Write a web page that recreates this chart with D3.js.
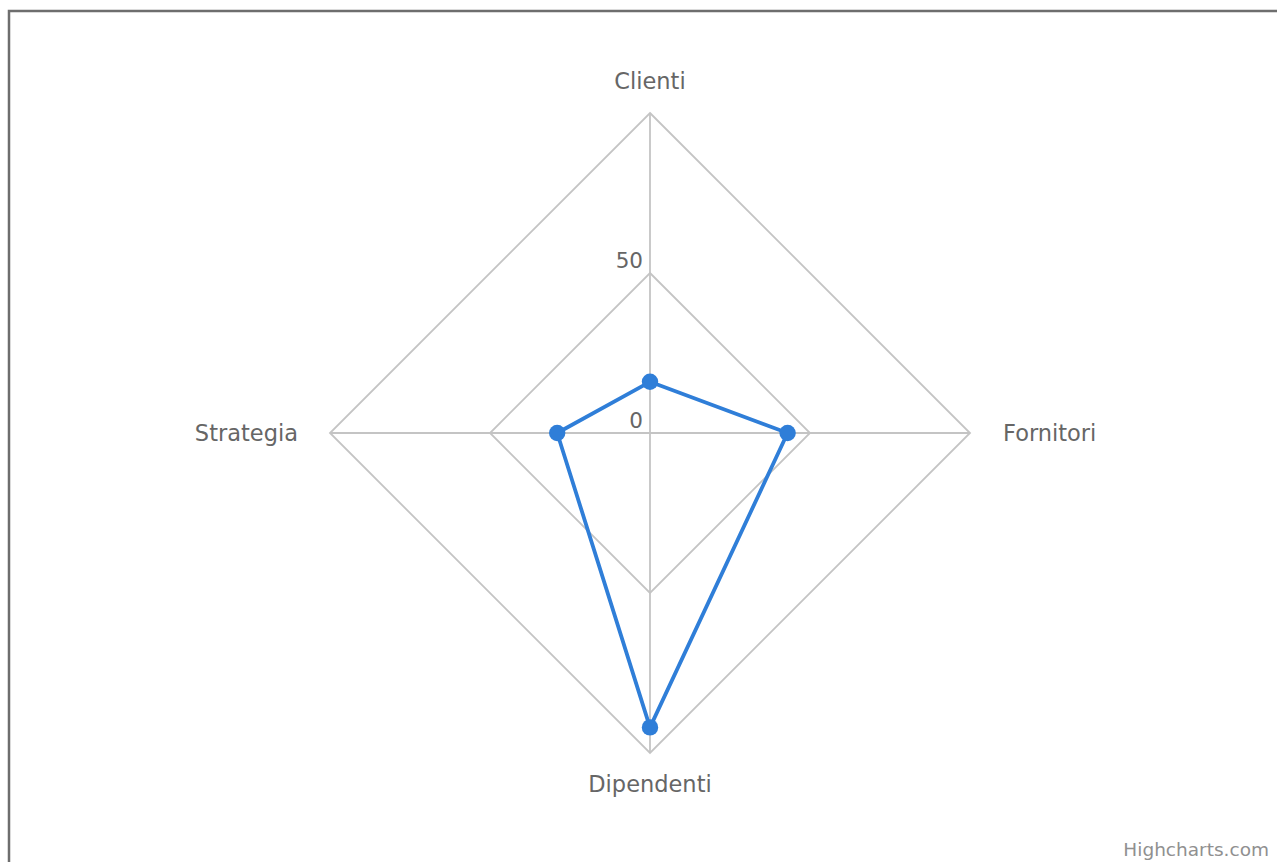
<!DOCTYPE html>
<html>
<head>
<meta charset="utf-8">
<style>
  body { margin: 0; background: #fff; }
  svg { display: block; font-family: "DejaVu Sans", sans-serif; }
</style>
</head>
<body>
<div class="start"></div>
<script src="https://cdn.jsdelivr.net/npm/d3@7/dist/d3.min.js" charset="utf-8"></script>
<script>
var categories = ['Clienti', 'Fornitori', 'Dipendenti', 'Strategia'];
var values = [16, 43, 92, 29];
var ticks = [0, 50, 100];
var tickLabels = ['0', '50'];

var width = 1277, height = 862;
var cx = 650, cy = 433;

var svg = d3.select('.start')
  .append('svg')
  .attr('width', width)
  .attr('height', height);

// chart frame
svg.append('rect')
  .attr('x', 9).attr('y', 11)
  .attr('width', 1400).attr('height', 1000)
  .attr('fill', 'none')
  .attr('stroke', '#6e6e6e')
  .attr('stroke-width', 2.5);

var r = d3.scaleLinear().domain([0, 100]).range([0, 320]);
var angle = d3.scalePoint().domain(categories).range([0, 2 * Math.PI * 3 / 4]);

function pt(cat, v) {
  var a = angle(cat);
  return [cx + r(v) * Math.sin(a), cy - r(v) * Math.cos(a)];
}

var g = svg.append('g');

// polygon gridlines
g.selectAll('.grid')
  .data(ticks.filter(function(t) { return t > 0; }))
  .enter().append('polygon')
  .attr('points', function(t) {
    return categories.map(function(c) { return pt(c, t).join(','); }).join(' ');
  })
  .attr('fill', 'none')
  .attr('stroke', '#c4c4c4')
  .attr('stroke-width', 1.8);

// spokes
g.selectAll('.spoke')
  .data(categories)
  .enter().append('line')
  .attr('x1', cx).attr('y1', cy)
  .attr('x2', function(c) { return pt(c, 100)[0]; })
  .attr('y2', function(c) { return pt(c, 100)[1]; })
  .attr('stroke', '#c4c4c4')
  .attr('stroke-width', 1.8);

// radial tick labels
g.selectAll('.tick')
  .data(tickLabels)
  .enter().append('text')
  .attr('x', cx - 7)
  .attr('y', function(d) { return cy - r(+d) - 5; })
  .attr('text-anchor', 'end')
  .attr('fill', '#666')
  .attr('font-size', 21.5)
  .text(function(d) { return d; });

// category labels
var labelPos = {
  'Clienti':    { dx: 0,   dy: -24, anchor: 'middle' },
  'Fornitori':  { dx: 33,  dy: 8,   anchor: 'start' },
  'Dipendenti': { dx: 0,   dy: 39,  anchor: 'middle' },
  'Strategia':  { dx: -32, dy: 8,   anchor: 'end' }
};
g.selectAll('.cat')
  .data(categories)
  .enter().append('text')
  .attr('x', function(c) { return pt(c, 100)[0] + labelPos[c].dx; })
  .attr('y', function(c) { return pt(c, 100)[1] + labelPos[c].dy; })
  .attr('text-anchor', function(c) { return labelPos[c].anchor; })
  .attr('fill', '#666')
  .attr('font-size', 22.5)
  .text(function(c) { return c; });

// series
var line = d3.line().curve(d3.curveLinearClosed);
var pts = categories.map(function(c, i) { return pt(c, values[i]); });

g.append('path')
  .attr('d', line(pts))
  .attr('fill', 'none')
  .attr('stroke', '#2f7ed8')
  .attr('stroke-width', 3.8)
  .attr('stroke-linejoin', 'round');

g.selectAll('.marker')
  .data(pts)
  .enter().append('circle')
  .attr('cx', function(d) { return d[0]; })
  .attr('cy', function(d) { return d[1]; })
  .attr('r', 8.2)
  .attr('fill', '#2f7ed8');

// credits
svg.append('text')
  .attr('x', 1269).attr('y', 856)
  .attr('text-anchor', 'end')
  .attr('fill', '#909090')
  .attr('font-size', 18.5)
  .text('Highcharts.com');
</script>
</body>
</html>
